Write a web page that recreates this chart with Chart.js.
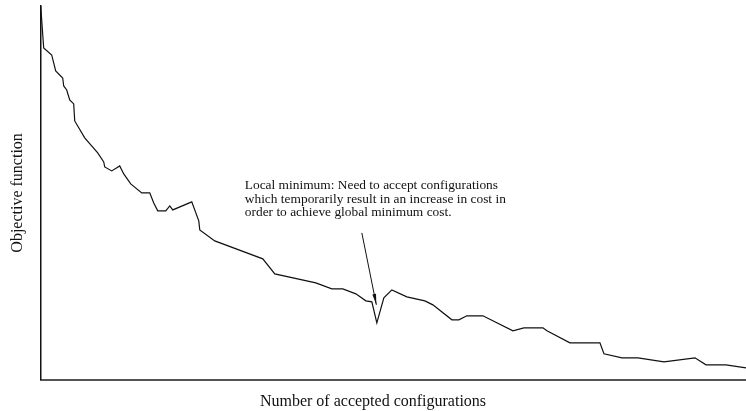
<!DOCTYPE html>
<html>
<head>
<meta charset="utf-8">
<script src="https://cdn.jsdelivr.net/npm/chart.js@4/dist/chart.umd.min.js"></script>
<style>
  html, body { margin: 0; padding: 0; background: #fff; }
  #wrap { width: 746px; height: 411px; }
</style>
</head>
<body>
<div id="wrap"><canvas id="myChart"></canvas></div>
<script>
// accepted configurations (x) and objective function value (y)
const configs = [0, 3, 11, 15, 22, 23, 26, 29, 33, 34, 44, 57, 63, 64, 71, 79, 83, 90, 101, 109,
  113, 117, 125, 129, 132, 151, 158, 159, 174, 222, 234, 275, 291, 302, 315, 325, 331, 336, 343, 351,
  366, 384, 392, 411, 418, 426, 442, 472, 483, 502, 506, 529, 559, 563, 581, 597, 623, 654, 665, 685, 705];
const cost = [374, 332, 325, 309, 302, 294, 290, 280, 276, 259, 242, 227, 218, 213, 209, 214, 206, 196, 187, 187,
  177, 169, 169, 174, 170, 178, 159, 150, 139, 121, 106, 97, 91, 91, 86, 79, 78, 57, 82, 90,
  83, 79, 75, 60, 60, 64, 64, 49, 52, 52, 49, 37, 37, 26, 22, 22, 18, 22, 15, 15, 12];

const xLabel = 'Number of accepted configurations';
const yLabel = 'Objective function';
const noteLines = [
  'Local minimum: Need to accept configurations',
  'which temporarily result in an increase in cost in',
  'order to achieve global minimum cost.'
];

let points = [];
for (let i = 0; i < configs.length; i++) {
  points.push({ x: configs[i], y: cost[i] });
}

// annotation text + arrow pointing to the local minimum
const notePlugin = {
  id: 'note',
  afterDraw(chart) {
    const c = chart.ctx;
    const xs = chart.scales.x, ys = chart.scales.y;
    c.save();
    c.fillStyle = '#111';
    c.font = '13.4px "Liberation Serif", "Times New Roman", serif';
    c.textBaseline = 'alphabetic';
    for (let i = 0; i < noteLines.length; i++) {
      c.fillText(noteLines[i], xs.getPixelForValue(204), 189 + i * 13.5);
    }
    const x0 = xs.getPixelForValue(321), y0 = ys.getPixelForValue(147);
    const x1 = xs.getPixelForValue(335.5), y1 = ys.getPixelForValue(75);
    c.strokeStyle = '#111';
    c.lineWidth = 1;
    c.beginPath();
    c.moveTo(x0, y0);
    c.lineTo(x1, y1);
    c.stroke();
    const ang = Math.atan2(y1 - y0, x1 - x0);
    const len = 11, spread = 0.17;
    c.beginPath();
    c.moveTo(x1, y1);
    c.lineTo(x1 - len * Math.cos(ang - spread), y1 - len * Math.sin(ang - spread));
    c.lineTo(x1 - len * Math.cos(ang + spread), y1 - len * Math.sin(ang + spread));
    c.closePath();
    c.fill();
    c.restore();
  }
};

const ctx = document.getElementById('myChart');
new Chart(ctx, {
  type: 'line',
  data: {
    datasets: [{
      data: points,
      borderColor: '#111',
      borderWidth: 1.2,
      pointRadius: 0,
      tension: 0,
      fill: false
    }]
  },
  options: {
    responsive: true,
    maintainAspectRatio: false,
    animation: false,
    events: [],
    layout: { padding: { left: 0, right: 0, top: 6, bottom: 0 } },
    plugins: {
      legend: { display: false },
      tooltip: { enabled: false },
      title: {
        display: true,
        position: 'bottom',
        text: xLabel,
        color: '#111',
        font: { family: '"Liberation Serif", "Times New Roman", serif', size: 16, weight: 'normal' },
        padding: { top: 12, bottom: 0 }
      }
    },
    scales: {
      x: {
        type: 'linear',
        min: 0,
        max: 705,
        grid: { display: false, drawTicks: false },
        ticks: { display: false },
        border: { display: true, color: '#555', width: 2 }
      },
      y: {
        type: 'linear',
        min: 0,
        max: 374,
        grid: { display: false, drawTicks: false },
        ticks: { display: false },
        border: { display: true, color: '#111', width: 1.5 },
        title: {
          display: true,
          text: yLabel,
          color: '#111',
          font: { family: '"Liberation Serif", "Times New Roman", serif', size: 16, weight: 'normal' },
          padding: { top: 8.5, bottom: 13 }
        }
      }
    }
  },
  plugins: [notePlugin]
});
</script>
</body>
</html>
